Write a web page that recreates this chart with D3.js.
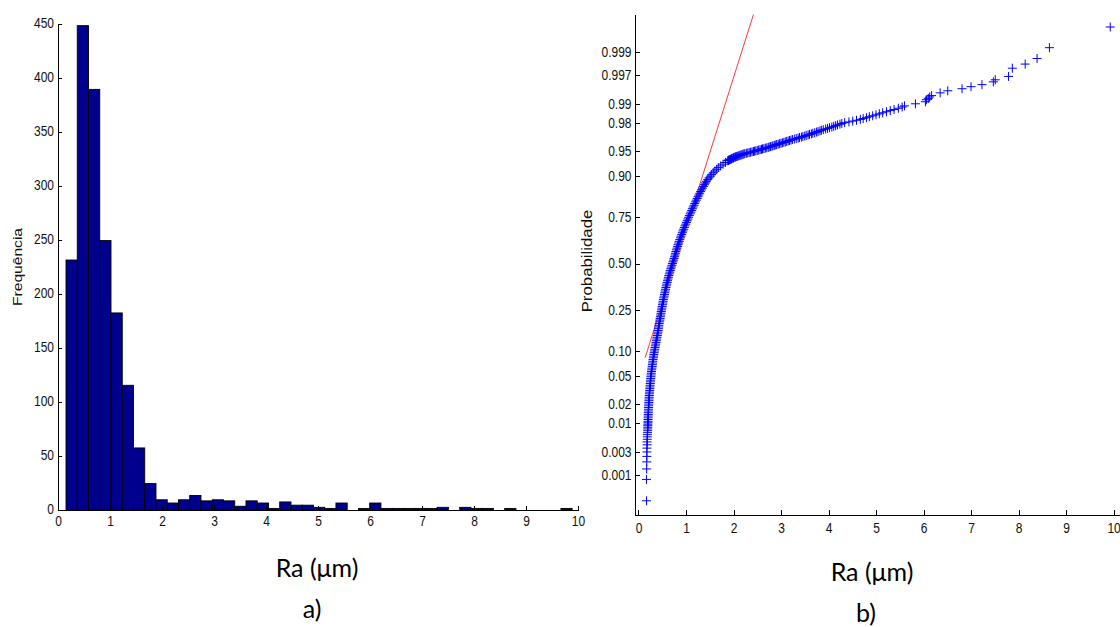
<!DOCTYPE html>
<html><head><meta charset="utf-8">
<script src="https://cdn.jsdelivr.net/npm/d3@7"></script>
<style>
body{margin:0;background:#fff}
svg{display:block}
.ax text{font-family:"Liberation Sans",Arial,sans-serif;font-size:12px;fill:#111}
.ax path,.ax line{stroke:#000;stroke-width:1;shape-rendering:crispEdges}
</style>
</head><body>
<svg id="c" width="1120" height="627"></svg>
<script>
// ================= DATA =================
// (a) histogram of Ra
const histBinStart = 0.154;      // left edge of first bin (µm)
const histBinWidth = 0.2163;     // bin width (µm)
const histCounts = [231,448,389,249,182,115,57,24,9,6,9,13,8,9,8,3,8,6,1,7,4,4,2,1,6,0,1,6,1,1,1,1,1,2,0,2,1,1,0,1,0,0,0,0,1];
const histXTicks = [0,1,2,3,4,5,6,7,8,9,10];
const histYTicks = [0,50,100,150,200,250,300,350,400,450];

// (b) normal probability plot: Ra readings and plotted probabilities
const lowTailRa = [.170,.168,.172,.174,.176,.178,.177,.182,.181,.185,.186,.188,.190,.192,.193,.195,.196,.198,.199];
const lowTailP  = [.00027,.00082,.00137,.00191,.00246,.00300,.00355,.00410,.00464,.00519,.00574,.00628,.00683,.00738,.00792,.00847,.00902,.00956,.01011];

const bodyRa = [
 .200,.201,.203,.204,.205,.207,.209,.210,.212,.214,.216,.218,.220,
 .222,.225,.227,.230,.233,.235,.238,.241,.244,.248,.251,.254,.258,.262,.265,.269,.274,.278,.283,.288,
 .293,.297,.302,.307,.313,.319,.324,.330,.336,.343,.349,.355,.362,.369,.376,.383,.390,.397,.403,.410,
 .415,.420,.425,.430,.436,.443,.449,.455,.461,.468,.474,.480,.486,.493,.499,.505,.512,.519,.525,.532,
 .540,.547,.555,.562,.570,.578,.586,.594,.603,.612,.621,.630,.640,.650,.660,.670,.681,.692,.704,.715,
 .726,.738,.749,.760,.770,.780,.790,.800,.811,.823,.834,.845,.858,.870,.883,.895,.909,.923,.936,.950,
 .965,.980,.995,1.010,1.025,1.040,1.055,1.070,1.086,1.103,1.119,1.135,1.151,1.168,1.184,1.200,1.218,1.235,1.253,1.270,
 1.289,1.308,1.326,1.345,1.366,1.388,1.409,1.430,1.458,1.485,1.513,1.540,1.575,1.610,1.645,1.680,1.730,1.780,1.830,1.880];
const bodyP = [
 .01072,.01147,.01222,.01306,.01390,.01482,.01578,.01680,.01786,.01900,.02018,.02144,.02275,
 .02415,.02559,.02712,.02872,.03040,.03216,.03400,.03593,.03795,.04006,.04226,.04457,.04697,.04947,.05208,.05480,.05763,.06057,.06362,.06681,
 .07012,.07353,.07710,.08076,.08457,.08851,.09260,.09680,.10117,.10565,.11030,.11507,.12000,.12507,.13030,.13567,.14120,.14686,.15270,.15866,
 .16480,.17106,.17750,.18406,.19080,.19766,.20470,.21186,.21920,.22663,.23425,.24196,.24985,.25785,.26600,.27425,.28265,.29116,.29980,.30854,
 .31740,.32636,.33540,.34458,.35385,.36317,.37260,.38209,.39165,.40129,.41100,.42074,.43055,.44038,.45026,.46017,.47010,.48006,.49003,.50000,
 .50997,.51994,.52990,.53983,.54974,.55962,.56945,.57926,.58900,.59871,.60835,.61791,.62740,.63683,.64615,.65542,.66460,.67364,.68260,.69146,
 .70020,.70884,.71735,.72575,.73400,.74215,.75015,.75804,.76575,.77337,.78080,.78814,.79530,.80234,.80920,.81594,.82250,.82894,.83520,.84134,
 .84730,.85314,.85880,.86433,.86970,.87493,.88000,.88493,.88970,.89435,.89885,.90320,.90740,.91149,.91545,.91924,.92290,.92647,.92985,.93319];

const kneeRa = [
 1.89,1.90,1.91,1.92,1.94,1.95,1.96,1.97,1.99,2.00,
 2.01,2.03,2.04,2.06,2.08,2.10,2.12,2.14,2.16,2.18,
 2.20,2.22,2.24,2.27,2.30,2.33,2.36,2.39,2.42,2.44,
 2.47,2.50,2.53,2.56,2.59,2.61,2.64,2.67,2.70,2.73,
 2.75,2.78,2.81,2.83,2.86,2.89,2.91,2.94,2.97,3.00,
 3.03,3.06,3.09,3.12,3.15,3.18,3.21,3.24,3.28,3.32,
 3.36,3.39,3.43,3.46,3.50,3.53,3.57,3.60,3.64,3.67,
 3.71,3.75,3.78,3.82,3.85,3.89,3.94,3.98,4.02,4.07,
 4.11,4.15,4.19,4.24,4.28,4.34,4.43,4.51,4.59,4.67,
 4.73,4.80,4.86,4.93,5.00,5.07,5.14,5.22,5.30,5.38,
 5.47,5.55];
const kneeP = [
 .93361,.93415,.93470,.93525,.93579,.93634,.93689,.93743,.93798,.93852,
 .93907,.93962,.94016,.94071,.94126,.94180,.94235,.94290,.94344,.94399,
 .94454,.94508,.94563,.94617,.94672,.94727,.94781,.94836,.94891,.94945,
 .95000,.95055,.95109,.95164,.95219,.95273,.95328,.95383,.95437,.95492,
 .95546,.95601,.95656,.95710,.95765,.95820,.95874,.95929,.95984,.96038,
 .96093,.96148,.96202,.96257,.96311,.96366,.96421,.96475,.96530,.96585,
 .96639,.96694,.96749,.96803,.96858,.96913,.96967,.97022,.97077,.97131,
 .97186,.97240,.97295,.97350,.97404,.97459,.97514,.97568,.97623,.97678,
 .97732,.97787,.97842,.97896,.97951,.98005,.98060,.98115,.98169,.98224,
 .98279,.98333,.98388,.98443,.98497,.98552,.98607,.98661,.98716,.98770,
 .98825,.98880];

const highTailRa = [5.60,5.83,6.04,6.06,6.10,6.13,6.17,6.35,6.51,6.81,7.00,7.23,7.47,7.51,7.79,7.87,8.14,8.39,8.65,9.93];
const highTailP  = [.98928,.99010,.99086,.99158,.99202,.99245,.99286,.99361,.99413,.99461,.99506,.99547,.99598,.99632,.99683,.99781,.99819,.99861,.99918,.99972];

// reference (fitted normal) line end points
const refLineRa = [0.14, 2.42];
const refLineP  = [0.085, 0.99986];

const probTicks = [0.001,0.003,0.01,0.02,0.05,0.10,0.25,0.50,0.75,0.90,0.95,0.98,0.99,0.997,0.999];
const probTickLabels = ["0.001","0.003","0.01","0.02","0.05","0.10","0.25","0.50","0.75","0.90","0.95","0.98","0.99","0.997","0.999"];
const probXTicks = [0,1,2,3,4,5,6,7,8,9,10];

// ================= HELPERS =================
function normInv(p){
  const a=[-3.969683028665376e+01,2.209460984245205e+02,-2.759285104469687e+02,1.383577518672690e+02,-3.066479806614716e+01,2.506628277459239e+00];
  const b=[-5.447609879822406e+01,1.615858368580409e+02,-1.556989798598866e+02,6.680131188771972e+01,-1.328068155288572e+01];
  const c=[-7.784894002430293e-03,-3.223964580411365e-01,-2.400758277161838e+00,-2.549732539343734e+00,4.374664141464968e+00,2.938163982698783e+00];
  const d=[7.784695709041462e-03,3.224671290700398e-01,2.445134137142996e+00,3.754408661907416e+00];
  const pl=0.02425;
  let q,r;
  if(p<pl){q=Math.sqrt(-2*Math.log(p));return (((((c[0]*q+c[1])*q+c[2])*q+c[3])*q+c[4])*q+c[5])/((((d[0]*q+d[1])*q+d[2])*q+d[3])*q+1);}
  if(p<=1-pl){q=p-0.5;r=q*q;return (((((a[0]*r+a[1])*r+a[2])*r+a[3])*r+a[4])*r+a[5])*q/(((((b[0]*r+b[1])*r+b[2])*r+b[3])*r+b[4])*r+1);}
  q=Math.sqrt(-2*Math.log(1-p));return -(((((c[0]*q+c[1])*q+c[2])*q+c[3])*q+c[4])*q+c[5])/((((d[0]*q+d[1])*q+d[2])*q+d[3])*q+1);
}
const S = 1.15; // vertical stretch of the exported figure's text

const svg = d3.select('#c');

// ================= (a) HISTOGRAM =================
const xL = d3.scaleLinear().domain([0,10]).range([58,578]);
const yL = d3.scaleLinear().domain([0,450]).range([509.5,23.5]);
const gL = svg.append('g');
const edge = i => histBinStart + i*histBinWidth;
gL.selectAll('rect').data(histCounts).join('rect')
  .attr('x',(d,i)=>xL(edge(i)))
  .attr('width',(d,i)=>xL(edge(i+1))-xL(edge(i)))
  .attr('y',d=>yL(d))
  .attr('height',d=>yL(0)-yL(d))
  .attr('fill','#00008f').attr('stroke','#000').attr('stroke-width',0.9);

const axLx = gL.append('g').attr('class','ax').attr('transform',`translate(0,${yL(0)})`)
  .call(d3.axisBottom(xL).tickValues(histXTicks).tickFormat(d3.format('d')).tickSize(-4).tickSizeOuter(0).tickPadding(6));
axLx.selectAll('text').attr('transform',`scale(1,${S})`);
const axLy = gL.append('g').attr('class','ax').attr('transform',`translate(${xL(0)},0)`)
  .call(d3.axisLeft(yL).tickValues(histYTicks).tickFormat(d3.format('d')).tickSize(-4).tickSizeOuter(0).tickPadding(4));
axLy.selectAll('text').attr('transform',`scale(1,${S})`);

svg.append('text').attr('transform',`translate(18,267) scale(1,1.25) rotate(-90)`)
  .attr('text-anchor','middle').attr('dy','0.35em')
  .style('font-family','"Liberation Sans",Arial,sans-serif').style('font-size','12.5px').style('fill','#111')
  .text('Frequência');

// ================= (b) NORMAL PROBABILITY PLOT =================
const xR = d3.scaleLinear().domain([-0.084,10.3]).range([634.5,1127.8]);
const zR = d3.scaleLinear().domain([-3.66,3.64]).range([514.5,14]);
const yP = p => zR(normInv(p));
const gR = svg.append('g');

const allRa = lowTailRa.concat(bodyRa, kneeRa, highTailRa);
const allP  = lowTailP.concat(bodyP, kneeP, highTailP);
const pts = allRa.map((r,i)=>({ra:r,p:allP[i]}));

// reference line (drawn beneath markers)
gR.append('path')
  .datum(refLineRa.map((r,i)=>({ra:r,p:refLineP[i]})))
  .attr('d', d3.line().x(d=>xR(d.ra)).y(d=>yP(d.p)))
  .attr('fill','none').attr('stroke','#ff2020').attr('stroke-width',0.9);

gR.append('g').selectAll('path').data(pts).join('path')
  .attr('transform',d=>`translate(${xR(d.ra)},${yP(d.p)})`)
  .attr('d','M-4.5,0H4.5M0,-4.5V4.5')
  .attr('fill','none').attr('stroke','#0000ff').attr('stroke-width',1);

const axRx = gR.append('g').attr('class','ax').attr('transform',`translate(0,${zR.range()[0]})`)
  .call(d3.axisBottom(xR).tickValues(probXTicks).tickFormat(d3.format('d')).tickSize(-5).tickSizeOuter(0).tickPadding(8));
axRx.selectAll('text').attr('transform',`scale(1,${S})`);
const axRy = gR.append('g').attr('class','ax').attr('transform',`translate(${xR.range()[0]},0)`)
  .call(d3.axisLeft(zR).tickValues(probTicks.map(normInv)).tickFormat((d,i)=>probTickLabels[i]).tickSize(-5).tickSizeOuter(0).tickPadding(3));
axRy.selectAll('text').attr('transform',`scale(1,${S})`);

svg.append('text').attr('transform',`translate(587.5,261) scale(1,1.2) rotate(-90)`)
  .attr('text-anchor','middle').attr('dy','0.35em')
  .style('font-family','"Liberation Sans",Arial,sans-serif').style('font-size','14px').style('fill','#111')
  .text('Probabilidade');

// ================= caption texts =================
const cap = (x,y,t)=>svg.append('text').attr('x',x).attr('y',y).attr('text-anchor','middle')
  .style('font-family','Lato,"Open Sans",sans-serif').style('font-size','25px').style('fill','#000').text(t);
cap(317,577,'Ra (μm)');
cap(312,618,'a)');
cap(872,581,'Ra (μm)');
cap(866,622,'b)');
</script>
</body></html>
